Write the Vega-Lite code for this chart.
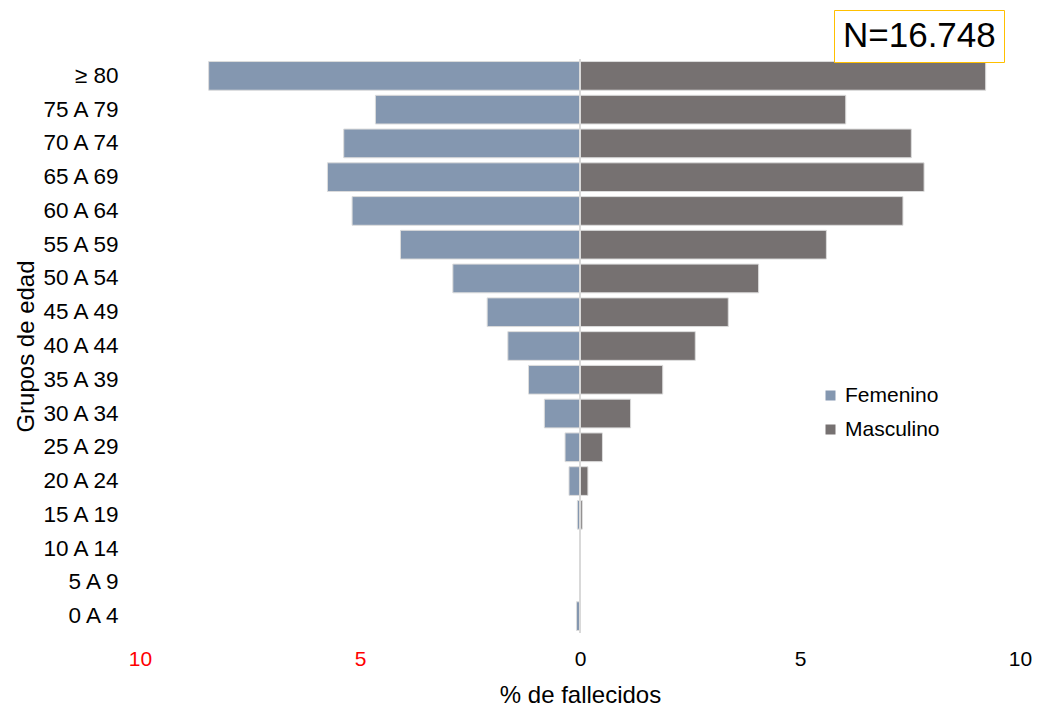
{
  "$schema": "https://vega.github.io/schema/vega-lite/v6.json",
  "width": 880,
  "height": 574,
  "autosize": {"type": "none"},
  "padding": {"left": 140, "top": 59, "right": 18, "bottom": 80},
  "background": "white",
  "config": {
    "view": {"stroke": null},
    "font": "Liberation Sans",
    "axis": {"grid": false, "domain": false, "ticks": false, "tickSize": 0, "labelColor": "#000000", "titleColor": "#000000", "titleFontWeight": "normal"}
  },
  "datasets": {
    "fallecidos": [
      {"grupo": "≥ 80", "sexo": "Femenino", "porcentaje": -8.44},
      {"grupo": "75 A 79", "sexo": "Femenino", "porcentaje": -4.65},
      {"grupo": "70 A 74", "sexo": "Femenino", "porcentaje": -5.37},
      {"grupo": "65 A 69", "sexo": "Femenino", "porcentaje": -5.74},
      {"grupo": "60 A 64", "sexo": "Femenino", "porcentaje": -5.18},
      {"grupo": "55 A 59", "sexo": "Femenino", "porcentaje": -4.08},
      {"grupo": "50 A 54", "sexo": "Femenino", "porcentaje": -2.89},
      {"grupo": "45 A 49", "sexo": "Femenino", "porcentaje": -2.11},
      {"grupo": "40 A 44", "sexo": "Femenino", "porcentaje": -1.64},
      {"grupo": "35 A 39", "sexo": "Femenino", "porcentaje": -1.17},
      {"grupo": "30 A 34", "sexo": "Femenino", "porcentaje": -0.81},
      {"grupo": "25 A 29", "sexo": "Femenino", "porcentaje": -0.34},
      {"grupo": "20 A 24", "sexo": "Femenino", "porcentaje": -0.25},
      {"grupo": "15 A 19", "sexo": "Femenino", "porcentaje": -0.06},
      {"grupo": "10 A 14", "sexo": "Femenino", "porcentaje": 0},
      {"grupo": "5 A 9", "sexo": "Femenino", "porcentaje": 0},
      {"grupo": "0 A 4", "sexo": "Femenino", "porcentaje": -0.08},
      {"grupo": "≥ 80", "sexo": "Masculino", "porcentaje": 9.22},
      {"grupo": "75 A 79", "sexo": "Masculino", "porcentaje": 6.04},
      {"grupo": "70 A 74", "sexo": "Masculino", "porcentaje": 7.53},
      {"grupo": "65 A 69", "sexo": "Masculino", "porcentaje": 7.82},
      {"grupo": "60 A 64", "sexo": "Masculino", "porcentaje": 7.34},
      {"grupo": "55 A 59", "sexo": "Masculino", "porcentaje": 5.6},
      {"grupo": "50 A 54", "sexo": "Masculino", "porcentaje": 4.06},
      {"grupo": "45 A 49", "sexo": "Masculino", "porcentaje": 3.37},
      {"grupo": "40 A 44", "sexo": "Masculino", "porcentaje": 2.62},
      {"grupo": "35 A 39", "sexo": "Masculino", "porcentaje": 1.88},
      {"grupo": "30 A 34", "sexo": "Masculino", "porcentaje": 1.15},
      {"grupo": "25 A 29", "sexo": "Masculino", "porcentaje": 0.51},
      {"grupo": "20 A 24", "sexo": "Masculino", "porcentaje": 0.18},
      {"grupo": "15 A 19", "sexo": "Masculino", "porcentaje": 0.05},
      {"grupo": "10 A 14", "sexo": "Masculino", "porcentaje": 0},
      {"grupo": "5 A 9", "sexo": "Masculino", "porcentaje": 0},
      {"grupo": "0 A 4", "sexo": "Masculino", "porcentaje": 0}
    ],
    "eje": [
      {"posicion": 0, "total": "N=16.748"}
    ]
  },
  "layer": [
    {
      "data": {"name": "fallecidos"},
      "mark": {"type": "bar", "stroke": "#dcdcdc", "strokeWidth": 1},
      "encoding": {
        "y": {
          "field": "grupo",
          "type": "nominal",
          "sort": ["≥ 80", "75 A 79", "70 A 74", "65 A 69", "60 A 64", "55 A 59", "50 A 54", "45 A 49", "40 A 44", "35 A 39", "30 A 34", "25 A 29", "20 A 24", "15 A 19", "10 A 14", "5 A 9", "0 A 4"],
          "scale": {"paddingInner": 0.15, "paddingOuter": 0.075},
          "title": "Grupos de edad",
          "axis": {"labelFontSize": 22.5, "labelPadding": 22, "titleFontSize": 24, "titlePadding": 2}
        },
        "x": {
          "field": "porcentaje",
          "type": "quantitative",
          "stack": null,
          "scale": {"domain": [-10, 10], "nice": false},
          "title": "% de fallecidos",
          "axis": {
            "values": [-10, -5, 0, 5, 10],
            "labelExpr": "abs(datum.value)",
            "labelColor": {"condition": {"test": "datum.value < 0", "value": "#ff0000"}, "value": "#000000"},
            "labelFlush": false,
            "labelOverlap": false,
            "labelFontSize": 21,
            "labelPadding": 15,
            "titleFontSize": 24,
            "titlePadding": 14
          }
        },
        "color": {
          "field": "sexo",
          "type": "nominal",
          "scale": {"domain": ["Femenino", "Masculino"], "range": ["#8497b0", "#767171"]},
          "legend": {
            "title": null,
            "orient": "none",
            "legendX": 680,
            "legendY": 326,
            "padding": 0,
            "symbolType": "square",
            "symbolSize": 100,
            "symbolStrokeWidth": 0,
            "symbolOpacity": 1,
            "labelFontSize": 21,
            "labelColor": "#000000",
            "labelOffset": 4,
            "rowPadding": 12
          }
        }
      }
    },
    {
      "data": {"name": "eje"},
      "mark": {"type": "rule", "color": "#d9d9d9", "strokeWidth": 2},
      "encoding": {
        "x": {"field": "posicion", "type": "quantitative"},
        "strokeDash": {
          "field": "total",
          "type": "nominal",
          "scale": {"range": [[1, 0]]},
          "legend": {
            "title": null,
            "orient": "none",
            "legendX": 694,
            "legendY": -49,
            "padding": 8,
            "strokeColor": "#ffc000",
            "fillColor": "#ffffff",
            "symbolType": "square",
            "symbolSize": 0,
            "symbolOpacity": 0,
            "symbolStrokeWidth": 0,
            "labelOffset": -34,
            "labelFontSize": 35,
            "labelLimit": 300,
            "labelColor": "#000000",
            "encode": {
              "legend": {
                "enter": {"strokeWidth": {"value": 2}},
                "update": {"strokeWidth": {"value": 2}}
              }
            }
          }
        }
      }
    }
  ]
}
